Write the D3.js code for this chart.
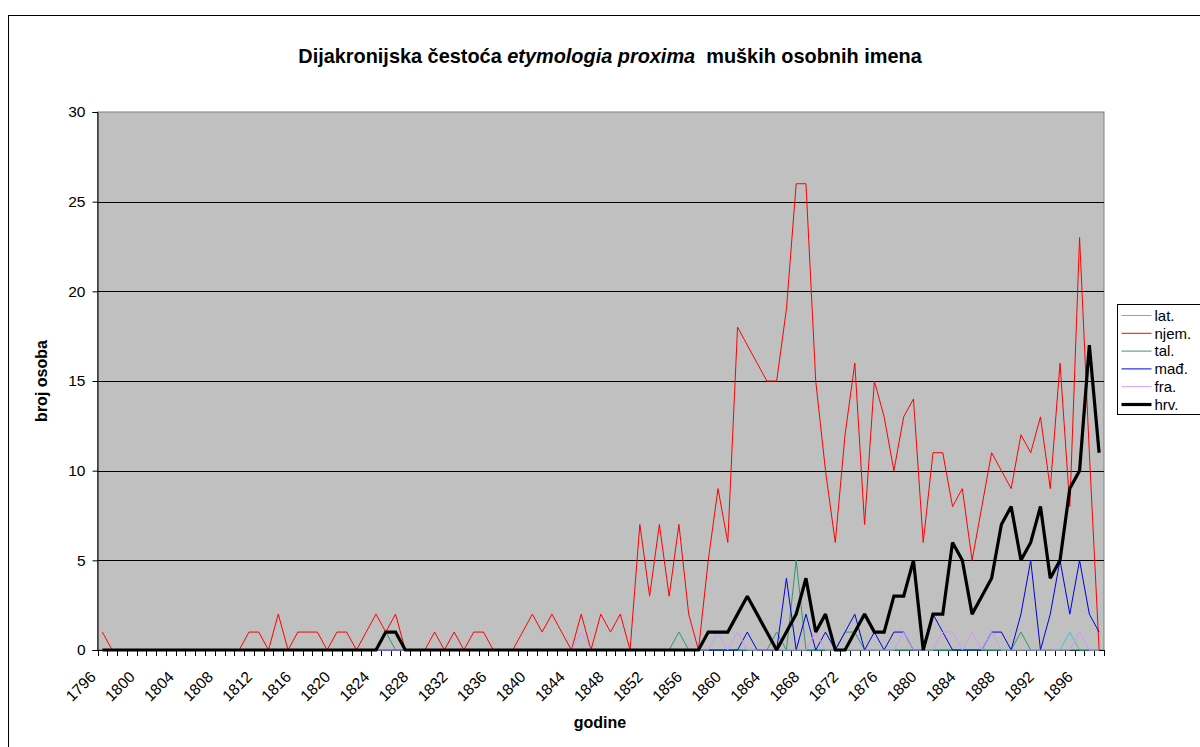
<!DOCTYPE html>
<html><head><meta charset="utf-8">
<script src="https://cdn.jsdelivr.net/npm/d3@7"></script>
<style>
html,body{margin:0;padding:0;background:#fff;}
svg text{font-family:"Liberation Sans",Arial,sans-serif;}
</style></head>
<body><svg id="c" width="1200" height="747"></svg>
<script>
const startYear = 1796, endYear = 1898;
const years = d3.range(startYear, endYear + 1);
const yTicks = [0, 5, 10, 15, 20, 25, 30];
const xTickLabels = d3.range(1796, 1897, 4);
const seriesNames = ["lat.", "njem.", "tal.", "mađ.", "fra.", "hrv."];
// values per year 1796..1898 (103 points)
const lat = [0,0,0,0,0,0,0,0,0,0, 0,0,0,0,0,0,0,0,0,0, 0,0,0,0,0,0,0,0,0,0,
  0,0,0,0,0,0,0,0,0,0, 0,0,0,0,0,0,0,0,0,0, 0,0,0,0,0,0,0,0,0,0,
  0,0,0,0,0,0,0,0,0,0, 0,0,0,0,0,0,0,0,0,0, 0,0,0,0,0,0,0,0,0,0,
  0,0,0,0,0,0,0,0,0,1, 0,0,0];
const njem = [1,0,0,0,0,0,0,0,0,0, 0,0,0,0,0,1,1,0,2,0, 1,1,1,0,1,1,0,1,2,1,
  2,0,0,0,1,0,1,0,1,1, 0,0,0,1,2,1,2,1,0,2, 0,2,1,2,0,7,3,7,3,7,
  2,0,5,9,6,18,17,16,15,15, 19,26,26,15,10,6,12,16,7,15, 13,10,13,14,6,11,11,8,9,5,
  8,11,10,9,12,11,13,9,16,8, 23,11,0];
const tal = [0,0,0,0,0,0,0,0,0,0, 0,0,0,0,0,0,0,0,0,0, 0,0,0,0,0,0,0,0,0,1,
  0,0,0,0,0,0,0,0,0,0, 0,0,0,0,0,0,0,0,0,0, 0,0,0,0,0,0,0,0,0,1,
  0,0,0,0,0,0,0,0,0,1, 0,5,0,0,0,0,1,1,0,0, 0,0,0,0,0,0,0,0,0,0,
  0,0,0,0,1,0,0,0,0,0, 0,0,0];
const mad = [0,0,0,0,0,0,0,0,0,0, 0,0,0,0,0,0,0,0,0,0, 0,0,0,0,0,0,0,0,0,0,
  0,0,0,0,0,0,0,0,0,0, 0,0,0,0,0,0,0,0,0,0, 0,0,0,0,0,0,0,0,0,0,
  0,0,0,0,0,0,1,0,0,0, 4,0,2,0,1,0,1,2,0,1, 0,1,1,0,0,2,1,0,0,0,
  0,1,1,0,2,5,0,2,5,2, 5,2,1];
const fra = [0,0,0,0,0,0,0,0,0,0, 0,0,0,0,0,0,0,0,0,0, 0,0,0,0,0,0,0,0,0,0,
  0,0,0,0,0,0,0,0,0,0, 0,0,0,0,0,0,0,0,0,1, 0,0,0,0,0,0,0,0,0,0,
  0,0,0,1,0,1,0,0,0,0, 0,0,0,1,0,0,0,0,0,0, 0,0,1,0,0,0,1,1,0,1, 
  0,1,0,0,0,0,0,0,0,0, 1,0,0];
const hrv = [0,0,0,0,0,0,0,0,0,0, 0,0,0,0,0,0,0,0,0,0, 0,0,0,0,0,0,0,0,0,1,
  1,0,0,0,0,0,0,0,0,0, 0,0,0,0,0,0,0,0,0,0, 0,0,0,0,0,0,0,0,0,0,
  0,0,1,1,1,2,3,2,1,0, 1,2,4,1,2,0,0,1,2,1, 1,3,3,5,0,2,2,6,5,2,
  3,4,7,8,5,6,8,4,5,9, 10,17,11];

const series = [
  {name: seriesNames[0], values: lat,  color: "#33cccc", width: 1},
  {name: seriesNames[1], values: njem, color: "#ff0000", width: 1},
  {name: seriesNames[2], values: tal,  color: "#339966", width: 1},
  {name: seriesNames[3], values: mad,  color: "#0000e0", width: 1},
  {name: seriesNames[4], values: fra,  color: "#cc99ff", width: 1},
  {name: seriesNames[5], values: hrv,  color: "#000000", width: 3.2}
];

const svg = d3.select("#c");
const P = {left: 97.5, right: 1104, top: 112, bottom: 650};

// outer frame
svg.append("rect").attr("x", 8.5).attr("y", 15.5).attr("width", 1250).attr("height", 760)
  .attr("fill", "#fff").attr("stroke", "#000").attr("stroke-width", 1);

const x = d3.scaleBand().domain(years).range([P.left, P.right]).paddingInner(0).paddingOuter(0);
const y = d3.scaleLinear().domain([0, 30]).range([P.bottom, P.top]);

// plot area
svg.append("rect").attr("x", P.left).attr("y", P.top).attr("width", P.right - P.left)
  .attr("height", P.bottom - P.top).attr("fill", "#c0c0c0").attr("stroke", "#808080").attr("stroke-width", 1);

// gridlines
svg.append("g").selectAll("line").data(yTicks.filter(d => d > 0 && d < 30)).join("line")
  .attr("x1", P.left).attr("x2", P.right)
  .attr("y1", d => Math.round(y(d)) + 0.5).attr("y2", d => Math.round(y(d)) + 0.5)
  .attr("stroke", "#000").attr("stroke-width", 1);

// y axis
const yAxis = d3.axisLeft(y).tickValues(yTicks).tickSize(5).tickPadding(7);
const gy = svg.append("g").attr("transform", `translate(${P.left},0)`).call(yAxis);
gy.select(".domain").attr("stroke", "#000");
gy.selectAll(".tick line").attr("stroke", "#000");
gy.selectAll("text").attr("font-size", 15.5).attr("fill", "#000").attr("font-family", "Liberation Sans, Arial, sans-serif");

// x axis ticks at category boundaries
const xb = d3.scaleLinear().domain([0, years.length]).range([P.left, P.right]);
svg.append("g").selectAll("line").data(d3.range(0, years.length + 1)).join("line")
  .attr("x1", d => Math.round(xb(d)) + 0.5).attr("x2", d => Math.round(xb(d)) + 0.5)
  .attr("y1", P.bottom).attr("y2", P.bottom + 6).attr("stroke", "#000");
svg.append("line").attr("x1", P.left).attr("x2", P.right).attr("y1", P.bottom + 0.5).attr("y2", P.bottom + 0.5)
  .attr("stroke", "#000").attr("stroke-width", 1);

// x labels
svg.append("g").selectAll("text").data(xTickLabels).join("text")
  .attr("transform", d => `translate(${x(d) + x.bandwidth() / 2 - 9.5},${P.bottom + 24}) rotate(-45)`)
  .attr("text-anchor", "end").attr("dy", "0.35em")
  .attr("font-size", 15.5).attr("fill", "#000").text(d => d);

// lines
const line = d3.line().x((d, i) => x(years[i]) + x.bandwidth() / 2).y(d => y(d));
svg.append("g").selectAll("path").data(series).join("path")
  .attr("d", s => line(s.values)).attr("fill", "none")
  .attr("stroke", s => s.color).attr("stroke-width", s => s.width)
  .attr("stroke-linejoin", "miter").attr("stroke-miterlimit", 2);

// title
const t = svg.append("text").attr("x", 610).attr("y", 63).attr("text-anchor", "middle")
  .attr("font-size", 19.9).attr("font-weight", "bold").attr("fill", "#000");
t.append("tspan").text("Dijakronijska čestoća ");
t.append("tspan").attr("font-style", "italic").text("etymologia proxima");
t.append("tspan").text("  muških osobnih imena").style("white-space", "pre");

// axis titles
svg.append("text").attr("transform", `translate(47,${(P.top + P.bottom) / 2}) rotate(-90)`)
  .attr("text-anchor", "middle").attr("font-size", 16).attr("font-weight", "bold").text("broj osoba");
svg.append("text").attr("x", 600).attr("y", 728).attr("text-anchor", "middle")
  .attr("font-size", 16).attr("font-weight", "bold").text("godine");

// legend
const L = {x: 1117.5, y: 304.5, w: 90, h: 110};
svg.append("rect").attr("x", L.x).attr("y", L.y).attr("width", L.w).attr("height", L.h)
  .attr("fill", "#fff").attr("stroke", "#000");
const lg = svg.append("g").selectAll("g").data(series).join("g")
  .attr("transform", (d, i) => `translate(${L.x},${L.y + 11 + i * 17.8})`);
lg.append("line").attr("x1", 4).attr("x2", 34).attr("y1", 0).attr("y2", 0)
  .attr("stroke", d => d.color).attr("stroke-width", d => d.width);
lg.append("text").attr("x", 37).attr("dy", "0.35em").attr("font-size", 15).text(d => d.name);
</script></body></html>
